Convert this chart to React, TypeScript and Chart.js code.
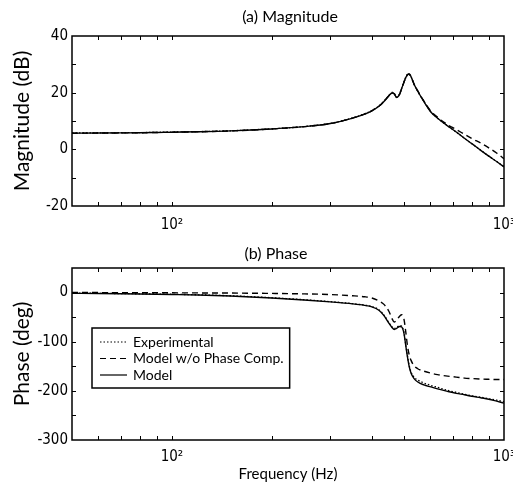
import React, { useEffect, useRef } from "react";
import { Chart, registerables } from "chart.js";

Chart.register(...registerables);

const FONT = "Lato";
const TICK_FONT = "'Liberation Sans Narrow', 'Arial Narrow', 'DejaVu Sans Condensed', Lato";

// Frequency grid (Hz)
const freq = [50, 60, 70, 80, 90, 100, 120, 150, 200, 250, 300, 350, 380, 400, 420, 435, 450, 460, 467, 475, 485, 492, 500, 506, 512, 518, 525, 536, 550, 574, 602, 631, 676, 718, 760, 800, 851, 900, 950, 1000];

// Magnitude (dB)
const magExperimental = [5.8, 5.8, 5.85, 5.9, 6.0, 6.1, 6.25, 6.55, 7.25, 8.05, 9.15, 11.1, 12.5, 13.7, 15.3, 17.0, 19.0, 20.1, 19.8, 18.4, 19.6, 21.6, 23.9, 25.4, 26.4, 26.5, 25.5, 23.0, 20.4, 16.9, 13.3, 11.0, 8.3, 6.1, 3.9, 2.0, -0.3, -2.4, -4.3, -6.1];
const magModelNoComp = [5.7, 5.75, 5.8, 5.85, 5.95, 6.05, 6.2, 6.5, 7.2, 8.0, 9.1, 11.0, 12.4, 13.6, 15.2, 16.9, 18.9, 19.9, 19.6, 18.3, 19.5, 21.5, 23.8, 25.3, 26.3, 26.6, 25.6, 23.0, 20.6, 17.0, 13.5, 11.3, 8.7, 7.0, 5.3, 3.8, 2.2, 0.5, -1.3, -3.3];
const magModel = [5.7, 5.75, 5.8, 5.85, 5.95, 6.05, 6.2, 6.5, 7.2, 8.0, 9.1, 11.0, 12.4, 13.6, 15.2, 16.9, 18.9, 19.9, 19.6, 18.3, 19.5, 21.5, 23.8, 25.3, 26.3, 26.6, 25.6, 23.0, 20.5, 16.8, 13.2, 11.0, 8.3, 6.1, 3.9, 2.0, -0.35, -2.4, -4.3, -6.2];

// Phase (deg)
const phaseExperimental = [-1, -1.5, -2, -2.5, -3, -3.5, -4.5, -6.5, -10.5, -14.5, -18.5, -22.5, -25.5, -28.5, -35, -46, -61, -70, -73, -71, -67, -68.5, -82, -106, -129, -148, -162, -172, -178, -184, -189, -193, -199, -203, -207, -210, -213, -216, -219, -222];
const phaseModelNoComp = [0, 0, -0.2, -0.3, -0.4, -0.5, -0.7, -1, -1.7, -2.7, -4, -6.5, -8.5, -11, -17, -24, -38, -53, -60, -56, -48, -45, -55, -80, -108, -126, -138, -149, -155, -160, -164, -167, -170, -172, -174, -175, -176, -176.5, -177, -177];
const phaseModel = [-1.5, -2, -2.5, -3, -3.5, -4, -5, -7, -11, -15, -19, -23, -26, -29, -36, -47, -62, -71, -75, -73, -69, -70, -84, -108, -131, -150, -164, -175, -182, -188, -192, -196, -201, -205, -208, -211, -214, -217, -221, -225];

const xTickValues = [50, 60, 70, 80, 90, 100, 200, 300, 400, 500, 600, 700, 800, 900, 1000];
const xTickLabels: Record<number, string> = { 100: "10²", 1000: "10³" };

const seriesNames = ["Experimental", "Model w/o Phase Comp.", "Model"];
const seriesDash = [[1.5, 2], [6, 4], []];

const framePlugin = {
  id: "frame",
  afterDraw(chart: any) {
    const { ctx, chartArea: a, scales } = chart;
    ctx.save();
    ctx.strokeStyle = "#000";
    ctx.lineWidth = 1.5;
    ctx.strokeRect(a.left, a.top, a.right - a.left, a.bottom - a.top);
    ctx.lineWidth = 1;
    const L = 4;
    ctx.beginPath();
    scales.x.ticks.forEach((t: any) => {
      const px = Math.round(scales.x.getPixelForValue(t.value)) + 0.5;
      if (px <= a.left + 1 || px >= a.right - 1) return;
      ctx.moveTo(px, a.bottom); ctx.lineTo(px, a.bottom - L);
      ctx.moveTo(px, a.top); ctx.lineTo(px, a.top + L);
    });
    scales.y.ticks.forEach((t: any) => {
      const py = Math.round(scales.y.getPixelForValue(t.value)) + 0.5;
      if (py <= a.top + 1 || py >= a.bottom - 1) return;
      ctx.moveTo(a.left, py); ctx.lineTo(a.left + L, py);
      ctx.moveTo(a.right, py); ctx.lineTo(a.right - L, py);
    });
    ctx.stroke();
    ctx.restore();
  },
};

const titlePlugin = {
  id: "plotTitle",
  afterDraw(chart: any, _args: any, opts: any) {
    if (!opts || !opts.text) return;
    const { ctx } = chart;
    ctx.save();
    ctx.font = `16px ${FONT}`;
    ctx.fillStyle = "#000";
    ctx.textAlign = "center";
    ctx.textBaseline = "middle";
    ctx.fillText(opts.text, opts.x, opts.y);
    ctx.restore();
  },
};

const legendPlugin = {
  id: "customLegend",
  afterDraw(chart: any, _args: any, opts: any) {
    if (!opts || !opts.show) return;
    const { ctx, chartArea: a } = chart;
    ctx.save();
    ctx.font = `14px ${FONT}`;
    const left = a.left + 20;
    const top = a.top + 60;
    const lineX0 = left + 8;
    const lineX1 = left + 35;
    const textX = left + 41;
    let maxW = 0;
    seriesNames.forEach((n) => { maxW = Math.max(maxW, ctx.measureText(n).width); });
    const w = textX + maxW + 6 - left;
    const h = 60;
    ctx.fillStyle = "#fff";
    ctx.fillRect(left, top, w, h);
    ctx.strokeStyle = "#000";
    ctx.lineWidth = 1.5;
    ctx.strokeRect(left, top, w, h);
    ctx.fillStyle = "#000";
    ctx.textBaseline = "middle";
    seriesNames.forEach((n, i) => {
      const y = top + 14 + i * 16.5;
      ctx.beginPath();
      ctx.setLineDash(seriesDash[i]);
      ctx.lineWidth = 1.2;
      ctx.moveTo(lineX0, y); ctx.lineTo(lineX1, y);
      ctx.stroke();
      ctx.setLineDash([]);
      ctx.fillText(n, textX, y);
    });
    ctx.restore();
  },
};

function buildConfig(kind: "mag" | "phase"): any {
  const isMag = kind === "mag";
  const ys = isMag ? [magExperimental, magModelNoComp, magModel] : [phaseExperimental, phaseModelNoComp, phaseModel];
  const datasets = ys.map((arr, i) => ({
    label: seriesNames[i],
    data: freq.map((f, j) => ({ x: f, y: arr[j] })),
    borderColor: "#000",
    borderWidth: i === 0 ? 1.3 : 1.4,
    borderDash: seriesDash[i],
    pointRadius: 0,
    cubicInterpolationMode: "monotone",
    fill: false,
  }));
  return {
    type: "line",
    data: { datasets },
    plugins: [framePlugin, legendPlugin, titlePlugin],
    options: {
      animation: false,
      responsive: false,
      devicePixelRatio: 1,
      layout: { padding: { left: 0, right: 9, top: isMag ? 36 : 28, bottom: 0 } },
      plugins: {
        legend: { display: false },
        tooltip: { enabled: false },
        title: { display: false },
        customLegend: { show: !isMag },
        plotTitle: isMag ? { text: "(a) Magnitude", x: 290, y: 17 } : { text: "(b) Phase", x: 276, y: 14 },
      },
      scales: {
        x: {
          type: "logarithmic",
          min: 50,
          max: 1000,
          afterBuildTicks: (scale: any) => {
            scale.ticks = xTickValues.map((v) => ({ value: v }));
          },
          afterFit: (scale: any) => {
            scale.height = isMag ? 34 : 43;
            scale.paddingLeft = 0;
            scale.paddingRight = 0;
          },
          grid: { display: false, drawTicks: false },
          border: { display: false },
          ticks: {
            autoSkip: false,
            maxRotation: 0,
            minRotation: 0,
            padding: isMag ? 10 : 8,
            color: "#000",
            font: { family: TICK_FONT, size: 15 },
            callback: (v: any) => xTickLabels[Number(v)] ?? "",
          },
          title: {
            display: !isMag,
            text: "Frequency (Hz)",
            color: "#000",
            font: { family: FONT, size: 15 },
            padding: { top: 0, bottom: 0 },
          },
        },
        y: {
          type: "linear",
          min: isMag ? -20 : -300,
          max: isMag ? 40 : 50,
          afterFit: (scale: any) => {
            scale.width = 72;
            scale.paddingTop = 0;
            scale.paddingBottom = 0;
          },
          grid: { display: false, drawTicks: false },
          border: { display: false },
          ticks: {
            stepSize: isMag ? 10 : 50,
            padding: 4,
            color: "#000",
            font: { family: TICK_FONT, size: 15 },
            callback: (v: any) => {
              const n = Number(v);
              const step = isMag ? 20 : 100;
              return n % step === 0 ? String(n) : "";
            },
          },
          title: {
            display: true,
            text: isMag ? "Magnitude (dB)" : "Phase (deg)",
            color: "#000",
            font: { family: FONT, size: 21, lineHeight: 1.2 },
            padding: { top: 10, bottom: 0 },
          },
        },
      },
    },
  };
}

function PlotCanvas({ kind, height }: { kind: "mag" | "phase"; height: number }) {
  const ref = useRef<HTMLCanvasElement | null>(null);
  useEffect(() => {
    if (!ref.current) return;
    const chart = new Chart(ref.current, buildConfig(kind));
    return () => chart.destroy();
  }, [kind]);
  return <canvas ref={ref} width={513} height={height} style={{ display: "block", width: 513, height }} />;
}

export default function App() {
  return (
    <div style={{ position: "absolute", left: 0, top: 0, width: 513, height: 483, background: "#fff" }}>
      <PlotCanvas kind="mag" height={240} />
      <PlotCanvas kind="phase" height={243} />
    </div>
  );
}
